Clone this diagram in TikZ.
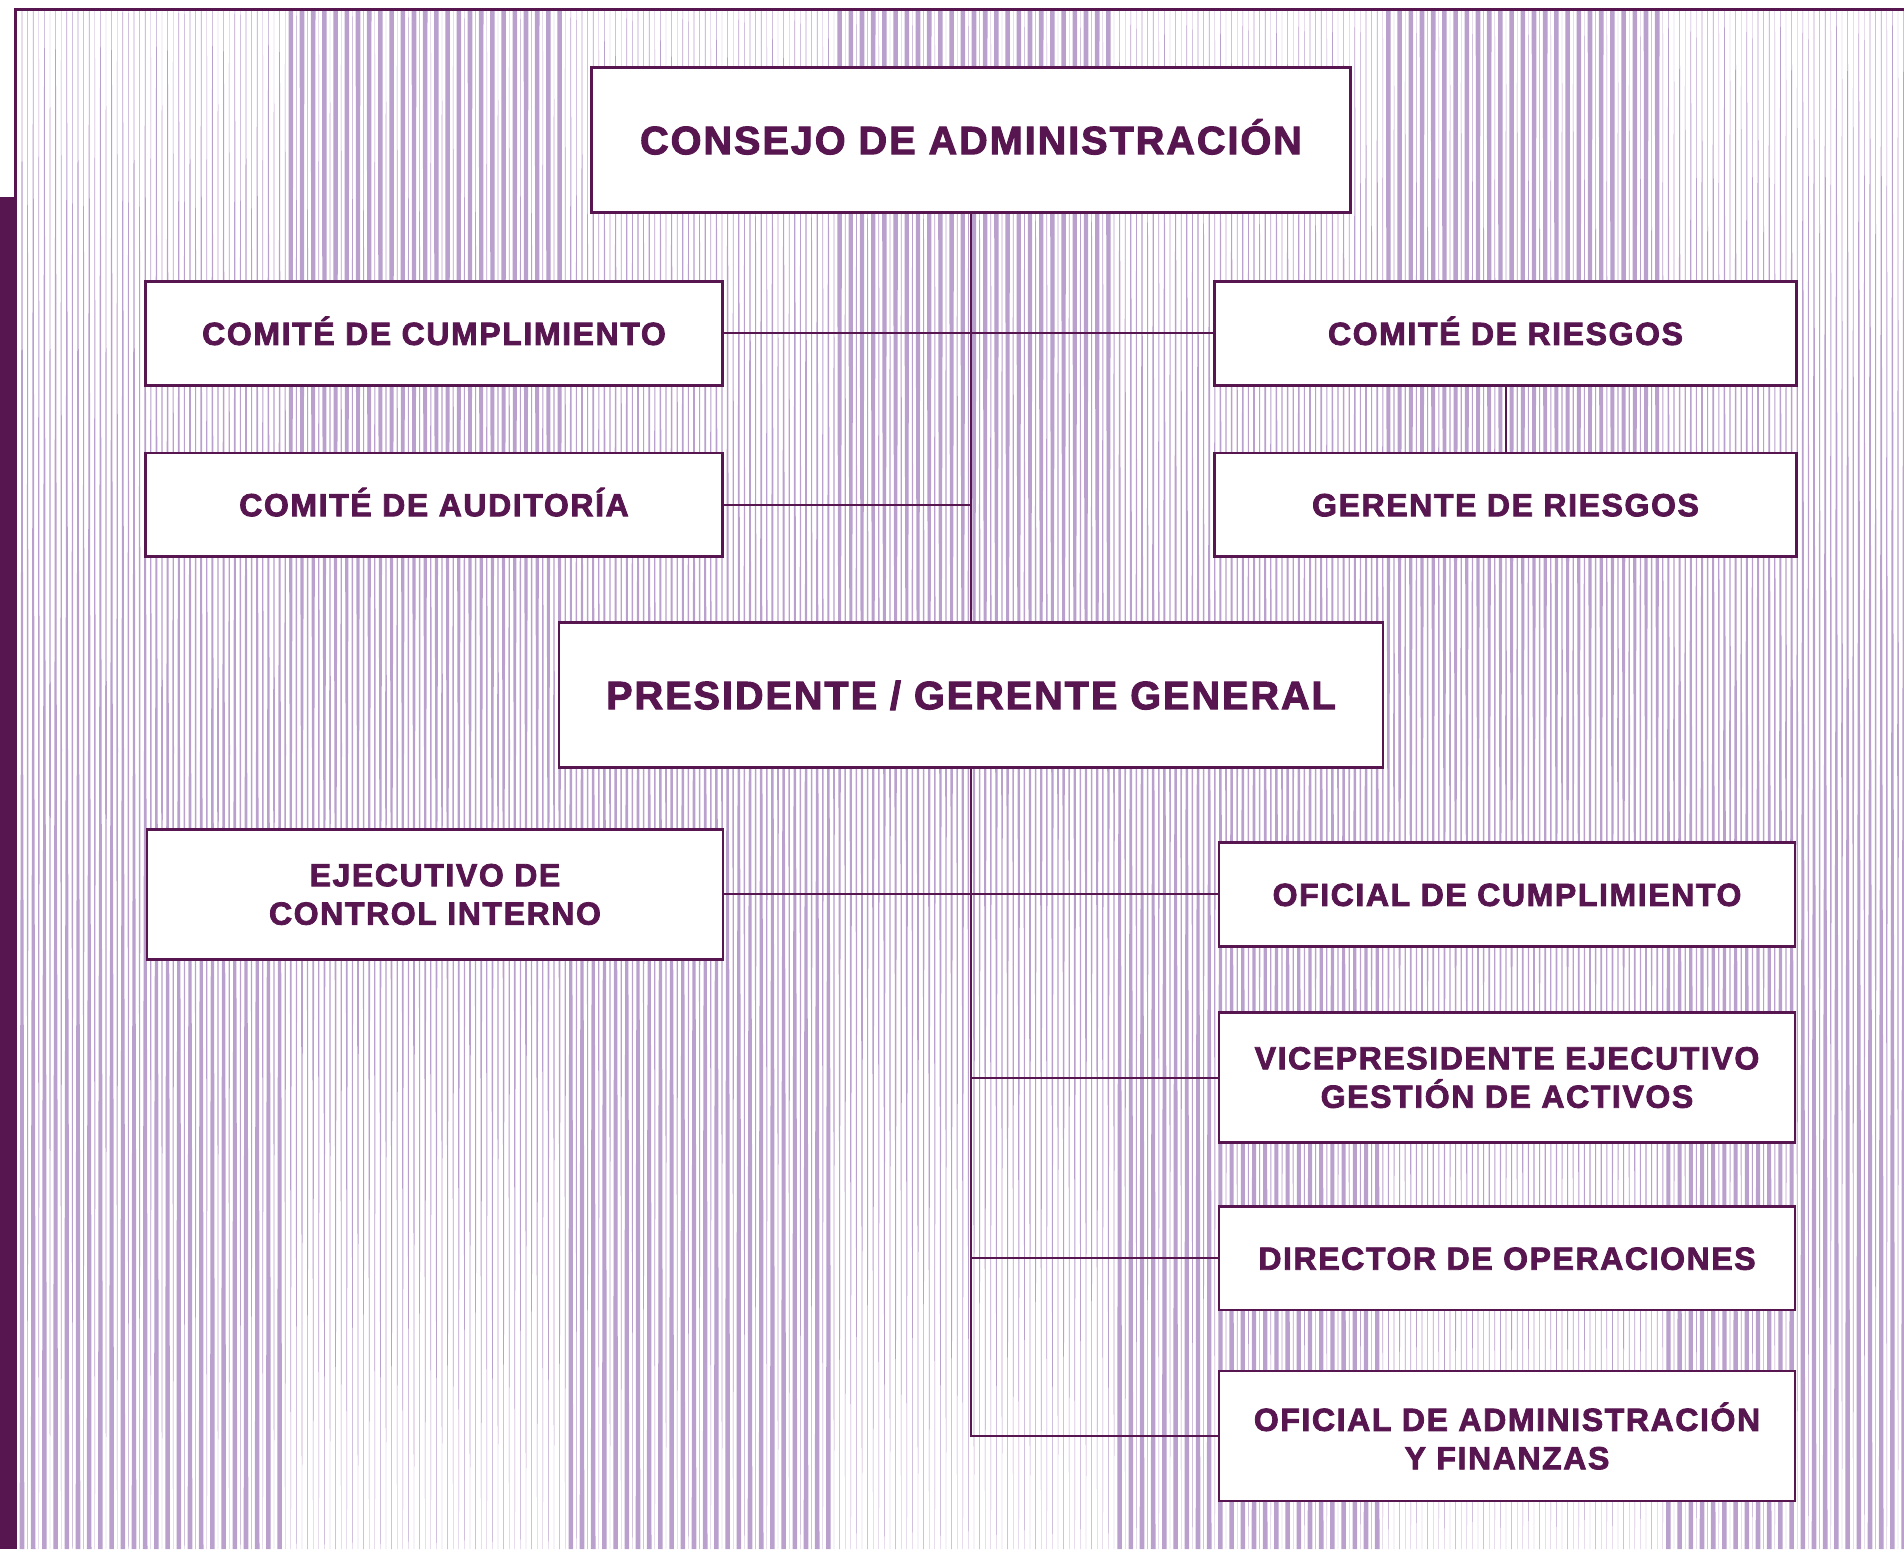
\documentclass[tikz,border=0pt]{standalone}
\usepackage{fontspec}
\setmainfont{Liberation Sans}[LetterSpace=5, BoldFeatures={FakeBold=2.5}]
\definecolor{plum}{RGB}{88,22,80}
\definecolor{lilac}{RGB}{186,160,205}
\newcommand\stripe[6]{%
  \fill[lilac] ({#1-#2/2},11) -- ({#1-#3/2},350) -- ({#1-#4/2},750) -- ({#1-#5/2},1150) -- ({#1-#6/2},1549)
    -- ({#1+#6/2},1549) -- ({#1+#5/2},1150) -- ({#1+#4/2},750) -- ({#1+#3/2},350) -- ({#1+#2/2},11) -- cycle;}

\begin{document}
\begin{tikzpicture}[x=0.5pt, y=-0.5pt,
        every node/.style={draw=plum, line width=1.3pt, fill=white, text=plum, align=center, inner sep=0pt,
                            font=\fontsize{16}{19.2}\selectfont\bfseries},
        head/.style={font=\fontsize{19.8}{23}\selectfont\bfseries, minimum height=72.3pt,
                            text height=14.2pt, text depth=0pt},
        unit/.style={minimum width=288pt, minimum height=51.8pt, text height=11.5pt, text depth=0pt},
        tall/.style={minimum width=288pt, minimum height=65pt},
        link/.style={draw=plum, line width=1pt},
        ]
    \useasboundingbox (0,0) rectangle (1904,1549);
    \foreach \k in {0,...,168}{
        \pgfmathsetmacro\xs{22+11.2*\k}
        \pgfmathtruncatemacro\band{mod(floor((\xs-15)/274.5),2)}
        \ifnum\band=1 \stripe{\xs}{4.6}{4.2}{2.4}{1.2}{0.3}\else\stripe{\xs}{0.6}{1.5}{2.4}{4.0}{4.6}\fi
        \stripe{\xs+5.6}{0.3}{1.0}{1.6}{1.0}{0.3}
    }
    \fill[plum] (0,197) rectangle (17,1549);
    \draw[plum, line width=1.5pt] (15.5,197) |- (1904,9);

    \node[head, minimum width=379.5pt] (consejo) at (971,140) {CONSEJO DE ADMINISTRACIÓN};
    \node[unit, minimum width=288.5pt] (cumpl) at (434,333.4) {COMITÉ DE CUMPLIMIENTO};
    \node[unit, minimum width=291pt] (riesgos) at (1505.5,333.4) {COMITÉ DE RIESGOS};
    \node[unit, minimum width=288.5pt] (audit) at (434,504.7) {COMITÉ DE AUDITORÍA};
    \node[unit, minimum width=291pt] (gerriesgos) at (1505.5,504.7) {GERENTE DE RIESGOS};
    \node[head, minimum width=412pt] (pres) at (971,695) {PRESIDENTE / GERENTE GENERAL};
    \node[tall] (ejec) at (435,894.4) {EJECUTIVO DE\\CONTROL INTERNO};
    \node[unit] (ofcump) at (1507,894.4) {OFICIAL DE CUMPLIMIENTO};
    \node[tall] (vice) at (1507,1077.5) {VICEPRESIDENTE EJECUTIVO\\GESTIÓN DE ACTIVOS};
    \node[unit] (dirop) at (1507,1258.2) {DIRECTOR DE OPERACIONES};
    \node[tall] (admfin) at (1507,1436) {OFICIAL DE ADMINISTRACIÓN\\Y FINANZAS};

    \draw[link] (consejo) -- (pres);
    \draw[link] (cumpl) -- (riesgos);
    \draw[link] (audit.east) -- (audit.east -| consejo.south);
    \draw[link] (riesgos) -- (gerriesgos);
    \draw[link] (pres.south) |- (admfin.west);
    \draw[link] (ejec) -- (ofcump);
    \draw[link] (vice.west -| pres.south) -- (vice.west);
    \draw[link] (dirop.west -| pres.south) -- (dirop.west);
\end{tikzpicture}
\end{document}
